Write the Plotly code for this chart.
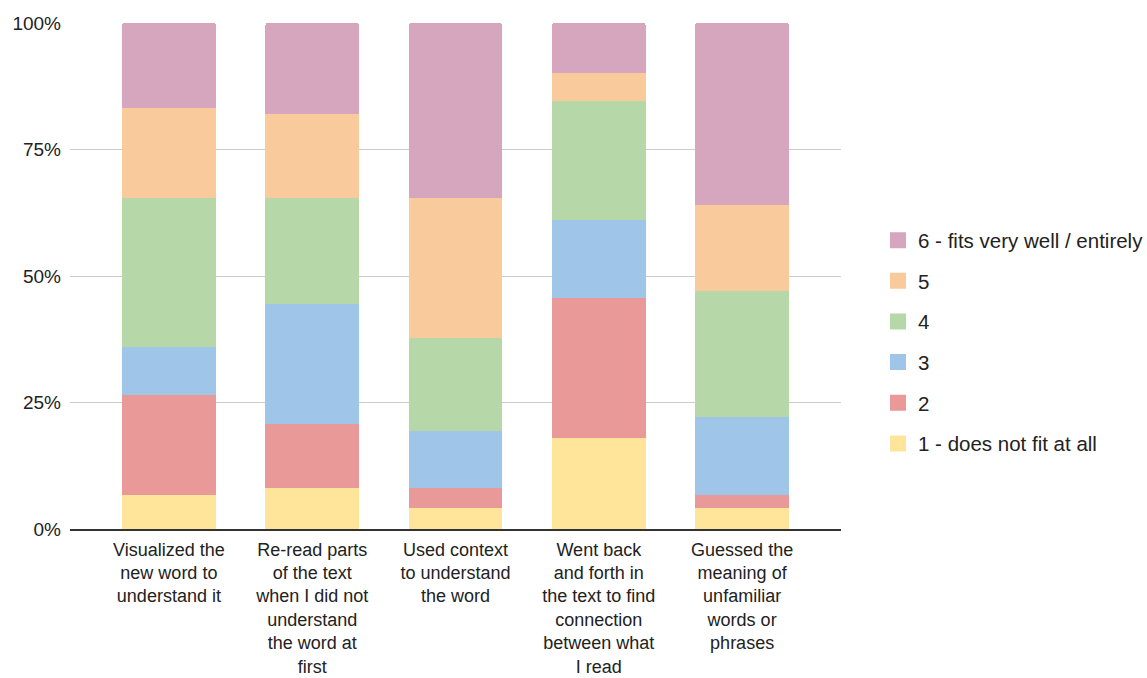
import plotly.graph_objects as go

categories = [
    "Visualized the<br>new word to<br>understand it",
    "Re-read parts<br>of the text<br>when I did not<br>understand<br>the word at<br>first",
    "Used context<br>to understand<br>the word",
    "Went back<br>and forth in<br>the text to find<br>connection<br>between what<br>I read",
    "Guessed the<br>meaning of<br>unfamiliar<br>words or<br>phrases",
]

# percentages per rating level
s1 = [6.8, 8.2, 4.1, 18.0, 4.1]
s2 = [19.6, 12.5, 4.1, 27.7, 2.7]
s3 = [9.5, 23.7, 11.1, 15.3, 15.3]
s4 = [29.5, 21.0, 18.4, 23.6, 25.0]
s5 = [17.8, 16.6, 27.7, 5.5, 16.9]
s6 = [16.8, 18.0, 34.6, 9.9, 36.0]

series_names = ["1 - does not fit at all", "2", "3", "4", "5", "6 - fits very well / entirely"]
series_values = [s1, s2, s3, s4, s5, s6]
colors = ["#FFE599", "#EA9999", "#9FC5E8", "#B6D7A8", "#F9CB9C", "#D5A6BD"]

FONT = "Liberation Sans, Arial, sans-serif"

fig = go.Figure()
for i, (name, vals, col) in enumerate(zip(series_names, series_values, colors)):
    fig.add_trace(go.Bar(
        x=list(range(len(categories))), y=[v / 100 for v in vals], name=name,
        marker=dict(color=col, line=dict(width=0)),
        showlegend=False,
    ))

# legend entries (larger square swatches), top = level 6
n = len(series_names)
for i in range(n - 1, -1, -1):
    fig.add_trace(go.Scatter(
        x=[None], y=[None], mode="markers", name=series_names[i],
        marker=dict(symbol="square", size=20, color=colors[i]),
        legendgroup=f"g{i}", legendrank=n - i, showlegend=True,
    ))

fig.update_layout(
    barmode="stack",
    bargap=0.345,
    barcornerradius=3,
    width=1147, height=678,
    margin=dict(l=70, r=306, t=23, b=149, autoexpand=False),
    paper_bgcolor="white", plot_bgcolor="white",
    font=dict(family=FONT, size=19, color="#222222"),
    legend=dict(
        x=1.048, xanchor="left", y=0.61, yanchor="top",
        traceorder="grouped", tracegroupgap=11,
        font=dict(family=FONT, size=20.5, color="#222222"),
        bgcolor="rgba(0,0,0,0)",
    ),
    showlegend=True,
)
fig.update_xaxes(
    tickmode="array", tickvals=list(range(len(categories))), ticktext=categories,
    range=[-0.69, 4.69], showgrid=False, showline=True, linecolor="#333333", linewidth=2,
    ticks="", tickfont=dict(family=FONT, size=18, color="#222222"), tickangle=0,
    ticklabelstandoff=3, zeroline=False,
)
fig.update_yaxes(
    range=[0, 1], tickvals=[0, 0.25, 0.5, 0.75, 1], tickformat=".0%",
    showgrid=True, gridcolor="#cccccc", gridwidth=1, zeroline=False,
    ticks="", ticklabelstandoff=8, tickfont=dict(family=FONT, size=19, color="#222222"),
)

fig.write_html("out.html")
